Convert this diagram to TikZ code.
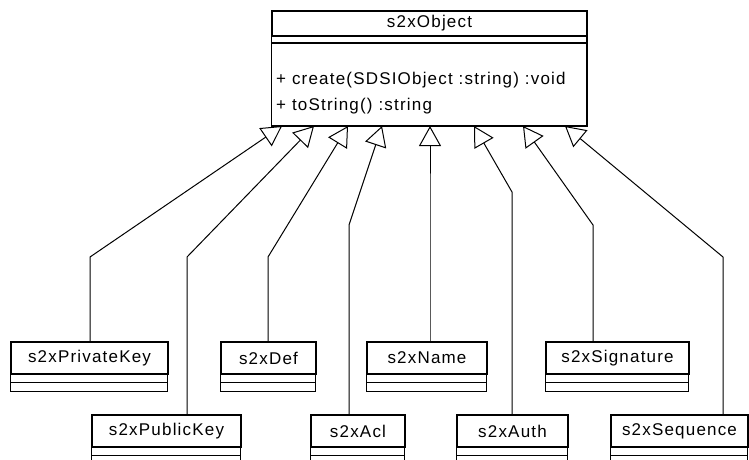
\documentclass[tikz,border=0pt]{standalone}
\usepackage{fontspec}
\setmainfont{Liberation Sans}[LetterSpace=7]
\usetikzlibrary{arrows.meta}
\tikzset{
	classline/.style={line width=1.1pt},
	classname/.style={draw, line width=1.1pt, inner sep=0pt, font=\fontsize{17}{20}\selectfont},
	optext/.style={anchor=west, inner sep=0pt, font=\fontsize{17}{20}\selectfont},
	gen/.style={line width=1pt, -{Triangle[open,length=20pt,width=22pt]}}
}
% #1 node name, #2 left, #3 top, #4 right, #5 class text
\newcommand{\umlClass}[5]{
	%name compartment
	\node[classname, minimum width={#4pt-#2pt}, minimum height=32pt] (#1) at ({(#2+#4)/2},#3+16) {#5};
	%attributes and operations (empty)
	\draw[classline] (#1.south west) rectangle ++(#4-#2,17);
	\draw[classline] (#1.south west) ++(0,8) -- ++(#4-#2,0);
}

\begin{document}
\begin{tikzpicture}[x=1pt,y=-1pt]
	\useasboundingbox (0,0) rectangle (749,459);
	\clip (0,0) rectangle (749,459);

	%parent class
	\node[classname, minimum width=315pt, minimum height=25pt] (obj) at (429.5,23.5) {s2xObject};
	\draw[classline] (obj.south west) rectangle (587,126);
	\draw[classline] (272,43) -- (587,43);
	\node[optext] (op1) at (276,80) {+ create(SDSIObject :string) :void};
	\node[optext] (op2) at (276,106) {+ toString() :string};

	%subclasses, upper row
	\umlClass{privkey}{11}{342}{168}{s2xPrivateKey}
	\umlClass{def}{221}{342}{316}{s2xDef}
	\umlClass{name}{367}{342}{487}{s2xName}
	\umlClass{sig}{546}{342}{689}{s2xSignature}
	%subclasses, lower row
	\umlClass{pubkey}{92}{415}{241}{s2xPublicKey}
	\umlClass{acl}{311}{415}{405}{s2xAcl}
	\umlClass{auth}{457}{415}{568}{s2xAuth}
	\umlClass{seq}{611}{415}{748}{s2xSequence}

	%generalisations
	\foreach \n/\lx/\by/\tx [count=\i] in {privkey/90/257/282, pubkey/187/257/314, def/268/257/348, acl/349/225/382, name/430/200/430, auth/512/192/474, sig/593/225/523, seq/723/257/565}{
		\coordinate (bend\i) at (\lx,\by);
		\coordinate (tip\i) at (\tx,126);
		\draw[gen] (\n.north -| bend\i) -- (bend\i) -- (tip\i);
	}
\end{tikzpicture}
\end{document}
